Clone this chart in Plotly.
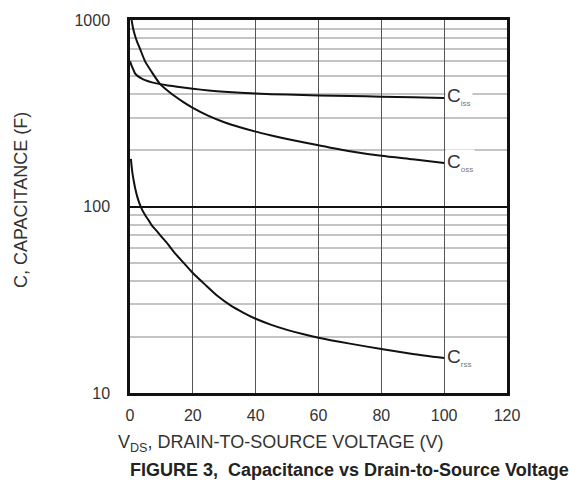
import math
import plotly.graph_objects as go

# Data (V_DS in volts, capacitance)
ciss_x = [0, 0.5, 1, 1.6, 2.5, 3.5, 4.8, 7, 9.6, 12, 15, 20, 25, 30, 40, 50, 60, 70, 80, 90, 100]
ciss_y = [600, 570, 545, 517, 500, 488, 476, 463, 453, 446, 439, 428, 419, 412, 403, 398, 394, 391, 388, 385, 382]

coss_x = [0.5, 1, 1.6, 2.3, 3.2, 4.8, 6.9, 9.6, 12, 14.3, 17, 20, 25, 30, 35, 40, 45, 50, 60, 70, 80, 90, 100]
coss_y = [1000, 900, 823, 760, 700, 600, 527, 453, 418, 390, 363, 338, 306, 283, 266, 252, 240.5, 230, 213, 198, 187, 179, 171]

crss_x = [0.3, 0.5, 0.8, 1.2, 1.7, 2.3, 3, 4, 5, 6, 7, 8.5, 10, 12, 14, 17, 20, 24, 28, 32, 36, 40, 45, 50, 55, 60, 70, 80, 90, 100]
crss_y = [180, 165, 150, 137, 124, 113, 104, 95, 89, 84, 79, 74, 69, 63, 57, 50, 44, 38, 33, 29.5, 27, 25, 23.2, 21.8, 20.7, 19.8, 18.4, 17.2, 16.2, 15.4]

series = [("iss", ciss_x, ciss_y),
          ("oss", coss_x, coss_y),
          ("rss", crss_x, crss_y)]

x_ticks = [0, 20, 40, 60, 80, 100, 120]
y_ticks = [10, 100, 1000]
y_minor = [m * d for d in (10, 100) for m in range(2, 10)]

FONT = "Liberation Sans, Arial, sans-serif"

fig = go.Figure()
for name, xs, ys in series:
    fig.add_trace(go.Scatter(x=xs, y=ys, mode="lines",
                             line=dict(color="#111", width=2, shape="spline", smoothing=0.6),
                             showlegend=False, hoverinfo="skip"))

for name, xs, ys in series:
    fig.add_annotation(x=xs[-1], y=math.log10(ys[-1]), xref="x", yref="y", yanchor="middle", xanchor="left",
                       text='C<sub><span style="font-size:8px;color:#777">' + name + '</span></sub>',
                       showarrow=False, bgcolor="white", xshift=1, yshift=1,
                       font=dict(family=FONT, size=19, color="#333"))

W, H = 569, 487
L, R, T, B = 130, 62, 14, 94
pw, ph = W - L - R, H - T - B

def px(x):
    return (x - L) / pw

def py(y):
    return (H - B - y) / ph

fig.add_annotation(x=px(21), y=py(197), xref="paper", yref="paper", text="C, CAPACITANCE (F)", textangle=-90,
                   showarrow=False, xanchor="center", yanchor="middle", font=dict(family=FONT, size=18, color="#333"))
fig.add_annotation(x=px(116), y=py(431), xref="paper", yref="paper",
                   text="V<sub>DS</sub>, DRAIN-TO-SOURCE VOLTAGE (V)",
                   showarrow=False, xanchor="left", yanchor="top", font=dict(family=FONT, size=18, color="#333"))
fig.add_annotation(x=px(128), y=py(471), xref="paper", yref="paper",
                   text="<b>FIGURE 3,  Capacitance vs Drain-to-Source Voltage</b>",
                   showarrow=False, xanchor="left", yanchor="middle", font=dict(family=FONT, size=18, color="#222"))

fig.update_layout(
    width=W, height=H, margin=dict(l=L, r=R, t=T, b=B),
    plot_bgcolor="white", paper_bgcolor="white",
    xaxis=dict(range=[0, 120], tickvals=x_ticks, showgrid=True, gridcolor="#555", gridwidth=1,
               showline=True, linecolor="#111", linewidth=2.5, mirror=True, zeroline=False,
               ticks="", ticklabelstandoff=6, tickfont=dict(family=FONT, size=16, color="#333")),
    yaxis=dict(type="log", range=[1, 3], tickvals=y_ticks, ticktext=[str(v) for v in y_ticks],
               showgrid=True, gridcolor="#111", gridwidth=1.5,
               minor=dict(tickvals=y_minor, showgrid=True, gridcolor="#c4c4c4", gridwidth=2, ticks=""),
               showline=True, linecolor="#111", linewidth=2.5, mirror=True, zeroline=False,
               ticks="", ticklabelstandoff=14, tickfont=dict(family=FONT, size=16, color="#333")),
)

fig.write_html("out.html")
